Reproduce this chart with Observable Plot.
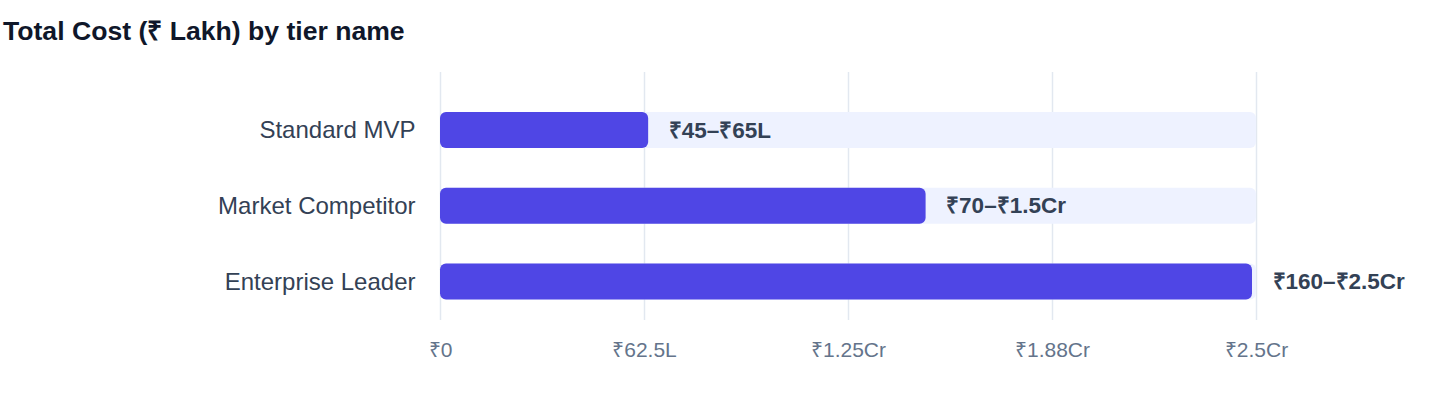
<!DOCTYPE html>
<html><head><meta charset="utf-8">
<script src="https://cdn.jsdelivr.net/npm/d3@7"></script>
<script src="https://cdn.jsdelivr.net/npm/@observablehq/plot@0.6"></script>
<style>
body{margin:0;background:#fff;font-family:"Liberation Sans",Arial,sans-serif;}
#title{height:60px;box-sizing:border-box;padding:16px 0 0 3px;font-size:26.6px;font-weight:bold;color:#0f172a;line-height:30px;}
</style></head><body>
<div id="title">Total Cost (₹ Lakh) by tier name</div>
<div id="chart"></div>
<script>
const tiers = ["Standard MVP", "Market Competitor", "Enterprise Leader"];
const lowValues = [45, 70, 160];
const highValues = [65, 150, 250];
const rangeLabels = ["₹45–₹65L", "₹70–₹1.5Cr", "₹160–₹2.5Cr"];
const xMax = 250;
const xTicks = [0, 62.5, 125, 187.5, 250];
const xTickLabels = ["₹0", "₹62.5L", "₹1.25Cr", "₹1.88Cr", "₹2.5Cr"];

const data = tiers.map((t, i) => ({tier: t, low: lowValues[i], high: highValues[i], label: rangeLabels[i], max: xMax}));

const chart = Plot.plot({
  width: 1440, height: 348,
  marginLeft: 440, marginRight: 184, marginTop: 12, marginBottom: 88,
  style: {fontFamily: '"Liberation Sans", Arial, sans-serif', background: "#fff"},
  x: {domain: [0, xMax], label: null},
  y: {domain: tiers, paddingInner: 0.526, paddingOuter: 0.4, align: 0.66, round: false, label: null},
  marks: [
    Plot.gridX(xTicks, {stroke: "#e2e8f0", strokeOpacity: 1, strokeWidth: 1.5}),
    Plot.barX(data, {y: "tier", x1: 0, x2: "max", fill: "#eef2ff", rx: 6}),
    Plot.barX(data, {y: "tier", x1: 0, x2: "high", fill: "#4f46e5", rx: 6, insetRight: 4}),
    Plot.text(data, {y: "tier", x: "high", text: "label", dx: 16, textAnchor: "start", fontWeight: "bold", fontSize: 22.5, fill: "#334155"}),
    Plot.axisX(xTicks, {tickSize: 0, tickPadding: 22, fontSize: 21, color: "#64748b", tickFormat: d => xTickLabels[xTicks.indexOf(d)], label: null}),
    Plot.axisY({tickSize: 0, tickPadding: 25, fontSize: 24, color: "#334155", label: null})
  ]
});
document.getElementById("chart").appendChild(chart);
</script>
</body></html>
